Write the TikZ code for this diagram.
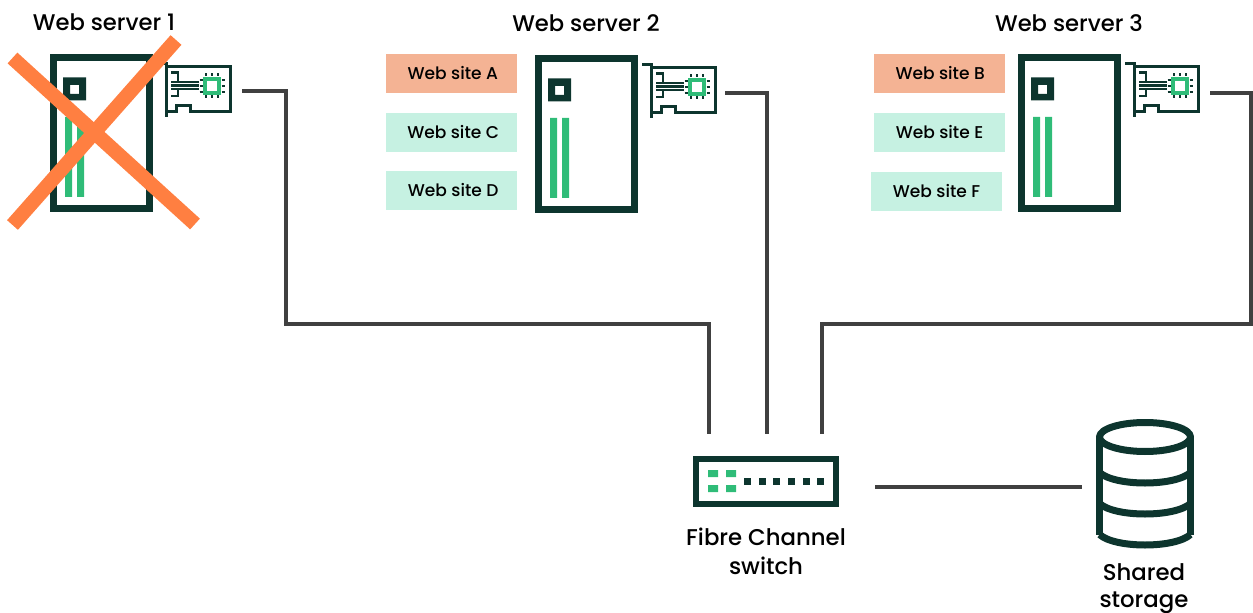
\documentclass[tikz,border=0pt]{standalone}
\usepackage{fontspec}
\setmainfont{Poppins Medium}
\definecolor{dark}{HTML}{0D352E}
\definecolor{grn}{HTML}{2FBC78}
\definecolor{wire}{HTML}{404040}
\definecolor{cross}{HTML}{FF7F41}
\definecolor{sitea}{HTML}{F4B394}
\definecolor{siteb}{HTML}{C6F1E2}
\tikzset{
  px/.style={line width=#1*0.75pt},
  title/.style={font=\fontsize{17}{20}\selectfont,text=black,inner sep=0pt},
  caption/.style={font=\fontsize{17.1}{21.5}\selectfont,text=black,align=center,inner sep=0pt},
  sitebox/.style={minimum width=98.25pt,minimum height=29.25pt,inner sep=0pt,font=\fontsize{12.8}{15}\selectfont,text=black},
  hot/.style={sitebox,fill=sitea},
  cool/.style={sitebox,fill=siteb},
  wireline/.style={draw=wire,px=4,line join=miter},
  serverpic/.pic={
    \draw[dark,px=7] (53.5,57.5) rectangle (149.5,208.5);
    \fill[grn] (65,117) rectangle (72,197) (77,117) rectangle (84,197);
    \fill[dark,even odd rule] (63,77.5) rectangle (86,100.5) (70,85) rectangle (79,94);
    % network card
    \draw[dark,px=3.5] (157,63.5) -- (166.5,63.5) -- (166.5,117);
    \draw[dark,px=3] (166.5,66.5) -- (230.5,66.5) -- (230.5,111.5) -- (190,111.5) -- (190,105.5) -- (176,105.5) -- (176,111.5) -- (166.5,111.5);
    \draw[dark,px=2.5] (171,82) -- (199,82) (171,85.5) -- (199,85.5) (171,89) -- (199,89);
    \draw[dark,px=2.5] (171,72.5) -- (178,72.5) -- (178,82) (178,89) -- (178,96) -- (171,96);
    \draw[grn,px=4] (205,79) rectangle (219,93);
    \draw[dark,px=2.5] (206,73.5) -- (206,76.5) (212,73.5) -- (212,76.5) (218,73.5) -- (218,76.5)
      (206,95.5) -- (206,98.5) (212,95.5) -- (212,98.5) (218,95.5) -- (218,98.5)
      (199.5,80) -- (202.5,80) (199.5,86) -- (202.5,86) (199.5,92) -- (202.5,92)
      (221.5,80) -- (224.5,80) (221.5,86) -- (224.5,86) (221.5,92) -- (224.5,92);
  }
}
\begin{document}
\begin{tikzpicture}[x=0.75pt,y=-0.75pt]
\useasboundingbox (0,0) rectangle (1253,613);

% servers
\pic at (0,0) {serverpic};
\pic at (485,1) {serverpic};
\pic at (968,0) {serverpic};

% titles
\node[title] (t1) at (104,22) {Web server 1};
\node[title] (t2) at (586,23) {Web server 2};
\node[title] (t3) at (1069,23) {Web server 3};

% web sites
\node[hot]  (sA) at (451.5,73.5) {\hspace*{2pt}Web site A};
\node[cool] (sC) at (451.5,132.5) {\hspace*{2.5pt}Web site C};
\node[cool] (sD) at (451.5,190.5) {\hspace*{2.5pt}Web site D};
\node[hot]  (sB) at (939.5,73.5) {\hspace*{1pt}Web site B};
\node[cool] (sE) at (939.5,132.5) {Web site E};
\node[cool] (sF) at (936.5,191.5) {Web site F};

% switch
\node[draw=dark,px=6,minimum width=105pt,minimum height=34pt,inner sep=0pt] (sw) at (765.5,481.5) {};
\fill[grn] (708,470) rectangle (718,477) (726,470) rectangle (736,477)
           (708,485) rectangle (718,492) (726,485) rectangle (736,492);
\foreach \xx in {744,759,773,788,803,817}
  \fill[dark] (\xx,478) rectangle (\xx+7,485);
\node[caption] (swlabel) at (766,551) {Fibre Channel\\switch};

% storage
\coordinate (stor) at (1145,437);
\draw[dark,px=7,line join=round] (stor) ellipse [x radius=45.5,y radius=14.5];
\draw[dark,px=7] (1099.5,437) -- (1099.5,535) (1190.5,437) -- (1190.5,535);
\foreach \yy in {472.5,503.5,534.5}
  \draw[dark,px=7] (1099.5,\yy) .. controls (1115,\yy+14) and (1175,\yy+14) .. (1190.5,\yy);
\node[caption] (stlabel) at (1144,588.5) {Shared\\[-1pt]storage};

% connectors
\coordinate (p1) at (242,91);
\coordinate (p2) at (725,93);
\coordinate (p3a) at (1210,93);
\coordinate (e1) at (709,434);
\coordinate (e2) at (767,434);
\coordinate (e3) at (822,434);
\coordinate (sw1) at (875,487);
\coordinate (st1) at (1082,487);
\draw[wireline] (p1) -- (286,91) -- (286,324) -- (709,324) -- (e1);
\draw[wireline] (p2) -- (767,93) -- (e2);
\draw[wireline] (p3a) -- (1251,93) -- (1251,324) -- (822,324) -- (e3);
\draw[wireline] (sw1) -- (st1);

% failure cross
\draw[cross,px=14.5] (12.5,58) -- (195,224);
\draw[cross,px=14.5] (176,40) -- (12.5,225);
\end{tikzpicture}
\end{document}
